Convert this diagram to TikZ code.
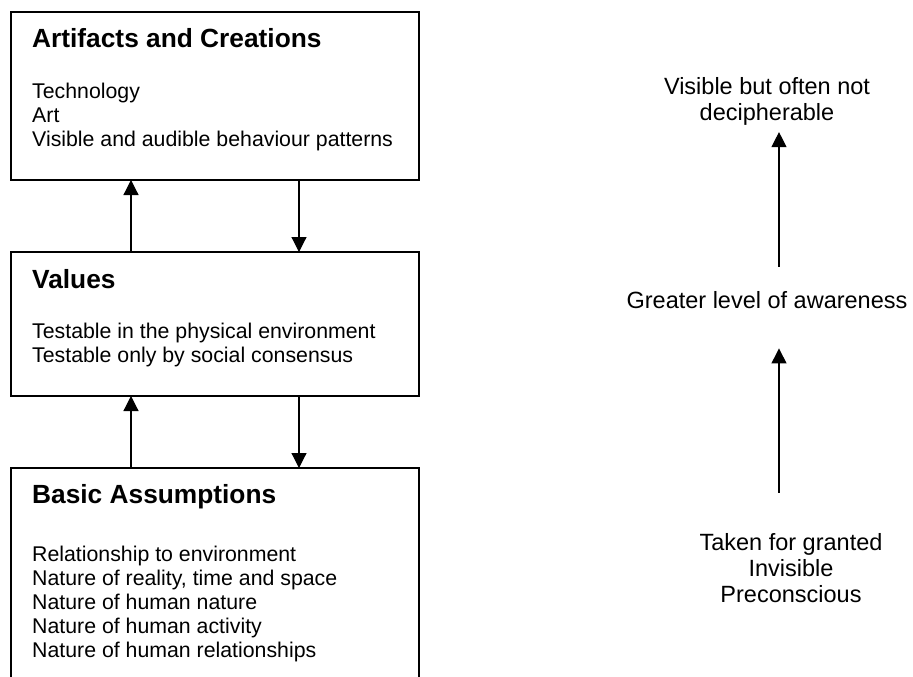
\documentclass[tikz,border=0pt]{standalone}
\usepackage{fontspec}
\setmainfont{Liberation Sans}
\usetikzlibrary{arrows.meta,positioning}
\begin{document}
\begin{tikzpicture}[x=1pt, y=-1pt,
		layer/.style={draw, line width=1.4pt, minimum width=408pt, inner sep=0pt, outer sep=0pt},
		head/.style={anchor=base west, inner sep=0pt, font=\bfseries\fontsize{26.3}{30}\selectfont},
		items/.style={anchor=base west, inner sep=0pt, align=left, font=\fontsize{21.3}{24}\selectfont},
		side/.style={anchor=base, inner sep=0pt, align=center, font=\fontsize{23.5}{26}\selectfont},
		link/.style={-{Triangle[length=15pt, width=15pt]}, line width=1.2pt}]
	\useasboundingbox (0,0) rectangle (913,677);
	\clip (0,0) rectangle (913,677);
	\node[layer, minimum height=168pt, anchor=north west] (artifacts) at (11,12) {};
	\node[layer, minimum height=144pt, below=72pt of artifacts] (values) {};
	\node[layer, minimum height=260pt, below=72pt of values] (basic) {};
	\node[head] (arthead) at ([shift={(21,36)}]artifacts.north west) {Artifacts and Creations};
	\node[items] (artitems) at ([shift={(21,134)}]artifacts.north west) {Technology\\Art\\Visible and audible behaviour patterns};
	\node[head] (valhead) at ([shift={(21,36)}]values.north west) {Values};
	\node[items] (valitems) at ([shift={(21,110)}]values.north west) {Testable in the physical environment\\Testable only by social consensus};
	\node[head] (bashead) at ([shift={(21,35)}]basic.north west) {Basic Assumptions};
	\node[items] (basitems) at ([shift={(21,189)}]basic.north west) {Relationship to environment\\Nature of reality, time and space\\Nature of human nature\\Nature of human activity\\Nature of human relationships};
	\coordinate (upx) at (131,0);
	\coordinate (downx) at (299,0);
	\draw[link] (values.north -| upx) -- (artifacts.south -| upx);
	\draw[link] (artifacts.south -| downx) -- (values.north -| downx);
	\draw[link] (basic.north -| upx) -- (values.south -| upx);
	\draw[link] (values.south -| downx) -- (basic.north -| downx);
	\node[side] (visible) at (767,120) {Visible but often not\\decipherable};
	\node[side] (greater) at (767,308) {Greater level of awareness};
	\node[side] (taken) at (791,602) {Taken for granted\\Invisible\\Preconscious};
	\coordinate (ax) at (779,0);
	\draw[link, shorten <=24pt, shorten >=7pt] (greater.north -| ax) -- (visible.south -| ax);
	\draw[link, shorten <=40pt, shorten >=40pt] (taken.north -| ax) -- (greater.south -| ax);
\end{tikzpicture}
\end{document}
